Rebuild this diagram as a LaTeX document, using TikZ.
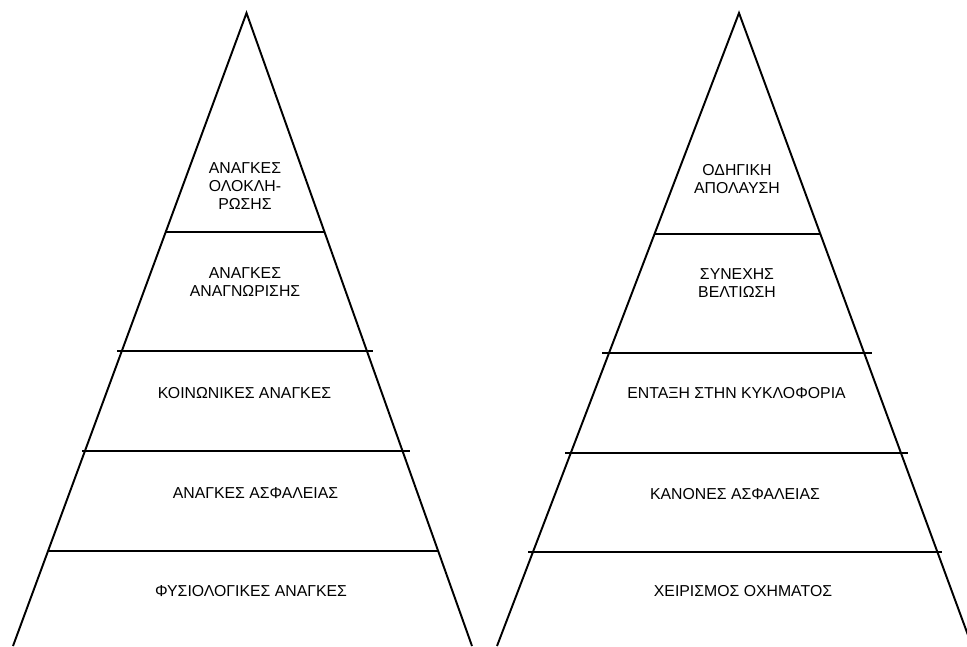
\documentclass[tikz,border=0pt]{standalone}
\usepackage{fontspec}
\setmainfont{Liberation Sans}
\usepackage{xcolor}
\usepackage{tikz}

\begin{document}
\begin{tikzpicture}[layertext/.style={align=center, font=\fontsize{9}{10.2}\selectfont},
                    edge/.style={line width=1.1pt, line join=miter}]
            \useasboundingbox (0,0) rectangle (19.34,12.92);
            \clip (0,0) rectangle (19.34,12.92);

            % Left pyramid
            \draw[edge] (0.26,0) -- (4.93,12.66) -- (9.44,0);
            \draw[edge] (3.30,8.28) -- (6.50,8.28);
            \draw[edge] (2.34,5.90) -- (7.46,5.90);
            \draw[edge] (1.64,3.90) -- (8.20,3.90);
            \draw[edge] (0.96,1.90) -- (8.78,1.90);

            % Right pyramid
            \draw[edge] (9.94,0) -- (14.78,12.66) -- (19.44,0);
            \draw[edge] (13.08,8.24) -- (16.40,8.24);
            \draw[edge] (12.04,5.86) -- (17.44,5.86);
            \draw[edge] (11.30,3.86) -- (18.16,3.86);
            \draw[edge] (10.56,1.88) -- (18.84,1.88);

            % Left layers
            \node[layertext] (fulfil) at (4.90,9.20) {ΑΝΑΓΚΕΣ\\ΟΛΟΚΛΗ-\\ΡΩΣΗΣ};
            \node[layertext] (esteem) at (4.90,7.28) {ΑΝΑΓΚΕΣ\\ΑΝΑΓΝΩΡΙΣΗΣ};
            \node[layertext] (social) at (4.89,5.06) {ΚΟΙΝΩΝΙΚΕΣ ΑΝΑΓΚΕΣ};
            \node[layertext] (safety) at (5.11,3.06) {ΑΝΑΓΚΕΣ ΑΣΦΑΛΕΙΑΣ};
            \node[layertext] (physio) at (5.02,1.10) {ΦΥΣΙΟΛΟΓΙΚΕΣ ΑΝΑΓΚΕΣ};

            % Right layers
            \node[layertext] (enjoy) at (14.74,9.33) {ΟΔΗΓΙΚΗ\\ΑΠΟΛΑΥΣΗ};
            \node[layertext] (improve) at (14.74,7.26) {ΣΥΝΕΧΗΣ\\ΒΕΛΤΙΩΣΗ};
            \node[layertext] (traffic) at (14.73,5.06) {ΕΝΤΑΞΗ ΣΤΗΝ ΚΥΚΛΟΦΟΡΙΑ};
            \node[layertext] (rules) at (14.70,3.04) {ΚΑΝΟΝΕΣ ΑΣΦΑΛΕΙΑΣ};
            \node[layertext] (handling) at (14.86,1.10) {ΧΕΙΡΙΣΜΟΣ ΟΧΗΜΑΤΟΣ};
        \end{tikzpicture}
\end{document}
